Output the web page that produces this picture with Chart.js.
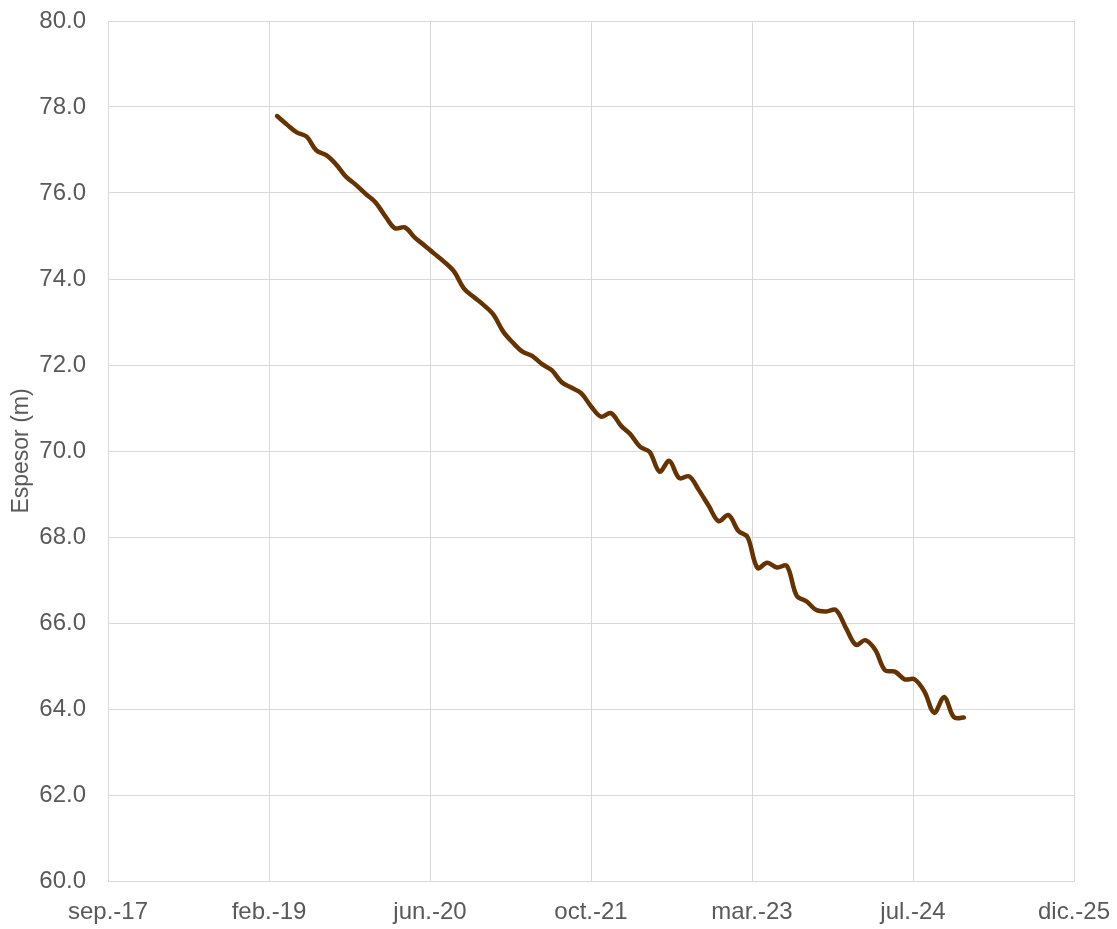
<!DOCTYPE html>
<html>
<head>
<meta charset="utf-8">
<script src="https://cdn.jsdelivr.net/npm/chart.js@4.4.1/dist/chart.umd.min.js"></script>
<style>
  html, body { margin: 0; padding: 0; background: #ffffff; }
  #wrap { width: 1117px; height: 929px; }
</style>
</head>
<body>
<div id="wrap"><canvas id="c" width="1117" height="929"></canvas></div>
<script>
// Months (first day of each month) of the measurements
const months = [
  "2019-03","2019-04","2019-05","2019-06","2019-07","2019-08","2019-09","2019-10","2019-11","2019-12",
  "2020-01","2020-02","2020-03","2020-04","2020-05","2020-06","2020-07","2020-08","2020-09","2020-10","2020-11","2020-12",
  "2021-01","2021-02","2021-03","2021-04","2021-05","2021-06","2021-07","2021-08","2021-09","2021-10","2021-11","2021-12",
  "2022-01","2022-02","2022-03","2022-04","2022-05","2022-06","2022-07","2022-08","2022-09","2022-10","2022-11","2022-12",
  "2023-01","2023-02","2023-03","2023-04","2023-05","2023-06","2023-07","2023-08","2023-09","2023-10","2023-11","2023-12",
  "2024-01","2024-02","2024-03","2024-04","2024-05","2024-06","2024-07","2024-08","2024-09","2024-10","2024-11","2024-12",
  "2025-01"
];
// Espesor (m)
const espesor = [
  77.79, 77.59, 77.41, 77.31, 76.99, 76.88, 76.66, 76.38, 76.19, 75.98,
  75.78, 75.45, 75.18, 75.20, 74.97, 74.78, 74.59, 74.40, 74.17, 73.78, 73.58, 73.40,
  73.17, 72.77, 72.53, 72.31, 72.21, 72.02, 71.88, 71.60, 71.47, 71.34, 71.03, 70.80,
  70.88, 70.59, 70.40, 70.10, 69.98, 69.52, 69.77, 69.37, 69.41, 69.09, 68.72, 68.37,
  68.51, 68.14, 68.00, 67.28, 67.40, 67.29, 67.33, 66.63, 66.50, 66.30, 66.27, 66.30,
  65.88, 65.49, 65.60, 65.37, 64.90, 64.87, 64.69, 64.69, 64.40, 63.91, 64.28, 63.81,
  63.80
];
// Axis settings (Excel serial day numbers for the date axis)
const xMin = 43000, xMax = 46000, xStep = 500;
const yMin = 60, yMax = 80, yStep = 2;
const monthNames = ["ene.","feb.","mar.","abr.","may.","jun.","jul.","ago.","sep.","oct.","nov.","dic."];

const EXCEL_EPOCH = Date.UTC(1899, 11, 30);
function toSerial(ym) {
  const [y, m] = ym.split("-").map(Number);
  return Math.round((Date.UTC(y, m - 1, 1) - EXCEL_EPOCH) / 86400000);
}
function serialLabel(s) {
  const d = new Date(EXCEL_EPOCH + s * 86400000);
  return monthNames[d.getUTCMonth()] + "-" + String(d.getUTCFullYear() % 100).padStart(2, "0");
}

const points = months.map((m, i) => ({ x: toSerial(m), y: espesor[i] }));

const textColor = "#595959";
const gridColor = "#D9D9D9";
const fontFamily = "'Liberation Sans', Arial, sans-serif";

new Chart(document.getElementById("c"), {
  type: "line",
  data: {
    datasets: [{
      data: points,
      borderColor: "#663300",
      borderWidth: 4.5,
      pointRadius: 0,
      tension: 0.35,
      fill: false,
      borderCapStyle: "round",
      borderJoinStyle: "round"
    }]
  },
  options: {
    responsive: false,
    animation: false,
    devicePixelRatio: 1,
    layout: { padding: { left: 0, right: 43, top: 21, bottom: 0 } },
    plugins: { legend: { display: false }, tooltip: { enabled: false } },
    scales: {
      x: {
        type: "linear",
        min: xMin, max: xMax,
        afterBuildTicks: (axis) => {
          const t = [];
          for (let v = xMin; v <= xMax; v += xStep) t.push({ value: v });
          axis.ticks = t;
        },
        afterFit: (axis) => {
          axis.height = 48;
          axis.paddingLeft = 0; axis.paddingRight = 0;
        },
        ticks: {
          color: textColor,
          font: { family: fontFamily, size: 24 },
          padding: 17,
          maxRotation: 0,
          autoSkip: false,
          callback: (v) => serialLabel(v)
        },
        grid: { color: gridColor, lineWidth: 1, drawTicks: false },
        border: { color: gridColor, width: 1 }
      },
      y: {
        min: yMin, max: yMax,
        afterFit: (axis) => {
          axis.width = 108;
          axis.paddingTop = 0; axis.paddingBottom = 0;
        },
        ticks: {
          stepSize: yStep,
          color: textColor,
          font: { family: fontFamily, size: 24 },
          padding: 22,
          callback: (v) => Number(v).toFixed(1)
        },
        grid: { color: gridColor, lineWidth: 1, drawTicks: false },
        border: { display: false },
        title: {
          display: true,
          text: "Espesor (m)",
          color: textColor,
          font: { family: fontFamily, size: 23 },
          padding: { top: 8, bottom: 0 }
        }
      }
    }
  }
});
</script>
</body>
</html>
